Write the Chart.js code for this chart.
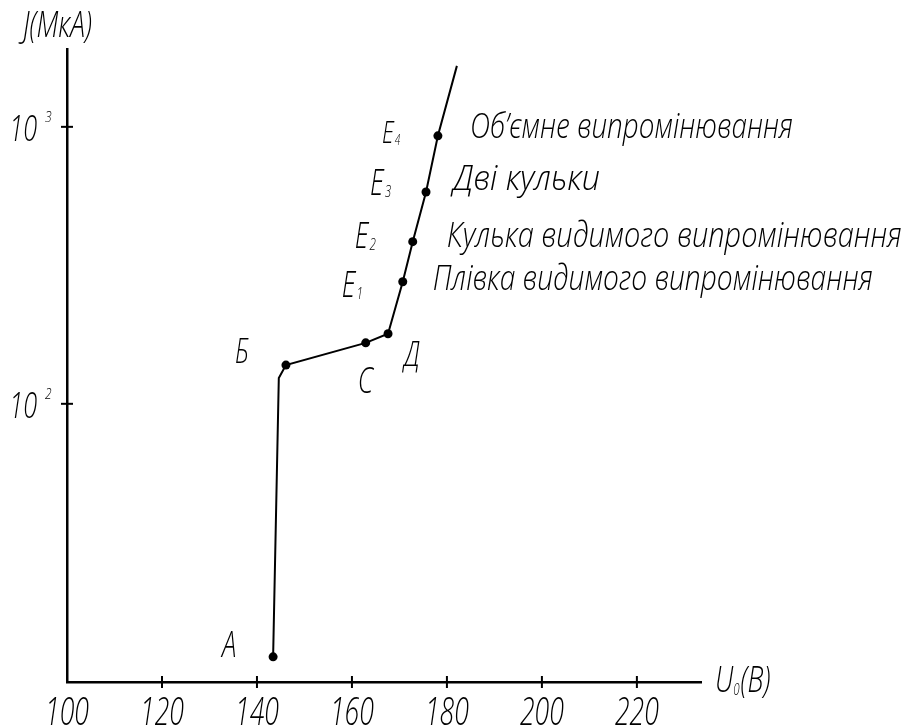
<html>
<head>
<script src="https://cdn.jsdelivr.net/npm/chart.js@4.4.1/dist/chart.umd.min.js"></script>
<style>
  body { margin: 0; background: #fff; }
</style>
</head>
<body>
<canvas id="chart" width="904" height="728"></canvas>
<script>

// U0 (V) and J (uA) along the curve
var U = [143.4, 144.6, 146.1, 162.9, 167.6, 170.7, 172.8, 175.6, 178.1, 182.1]
var J = [12.2, 124, 138, 166, 179, 276, 385, 582, 928, 1660]
var pointNames = ['А', '', 'Б', 'С', 'Д', 'Е1', 'Е2', 'Е3', 'Е4', '']
var regimes = ['Плівка видимого випромінювання', 'Кулька видимого випромінювання', 'Дві кульки', 'Об’ємне випромінювання']
var xTicks = [100, 120, 140, 160, 180, 200, 220]
var yTicks = [100, 1000]
var yTickLabels = [['10', '2'], ['10', '3']]

var FONT = '"Open Sans", "DejaVu Sans", sans-serif'

function txt(ctx, s, x, y, size, sx, align) {
  ctx.save()
  ctx.font = 'italic 300 ' + size + 'px ' + FONT
  ctx.fillStyle = '#000'
  ctx.textBaseline = 'alphabetic'
  ctx.textAlign = 'left'
  var w = ctx.measureText(s).width * sx
  var x0 = x
  if (align === 'center') x0 = x - w / 2
  if (align === 'right') x0 = x - w
  ctx.translate(x0, y)
  ctx.scale(sx, 1)
  ctx.fillText(s, 0, 0)
  ctx.restore()
  return w
}

// letter with an optional trailing digit drawn as subscript
function subTxt(ctx, s, x, y, size, sx) {
  var base = s.replace(/\d+$/, '')
  var sub = s.slice(base.length)
  var w = txt(ctx, base, x, y, size, sx)
  if (sub) txt(ctx, sub, x + w + 1, y + 2, size * 0.45, sx)
}

// offsets of point labels from their marker [dx, dy, size]
var labelPos = {
  'А': [-51, 0, 36], 'Б': [-51, -2, 34], 'С': [-8, 50, 36], 'Д': [16, 32, 35],
  'Е1': [-61, 15, 36], 'Е2': [-58, 6, 36], 'Е3': [-56, 3, 36], 'Е4': [-56, 7, 31]
}
// offsets of the regime captions from E1..E4 [dx, dy, target width]
var regimePos = [[30, 8, 440], [34, 5, 455], [27, -2, 147], [32, 2, 323]]

var annotate = {
  id: 'annotate',
  afterDraw: function(chart) {
    var ctx = chart.ctx
    var xs = chart.scales.x, ys = chart.scales.y
    var a = chart.chartArea
    ctx.save()
    ctx.strokeStyle = '#000'
    ctx.lineWidth = 2

    // x ticks and labels
    xTicks.forEach(function(v) {
      var px = xs.getPixelForValue(v)
      if (v > xs.min) {
        ctx.beginPath(); ctx.moveTo(px, a.bottom - 6); ctx.lineTo(px, a.bottom + 6); ctx.stroke()
      }
      txt(ctx, String(v), px, a.bottom + 43, 38, 0.7, 'center')
    })

    // y ticks and labels
    yTicks.forEach(function(v, i) {
      var py = ys.getPixelForValue(v)
      ctx.beginPath(); ctx.moveTo(a.left - 6, py); ctx.lineTo(a.left + 6, py); ctx.stroke()
      txt(ctx, yTickLabels[i][0], a.left - 30, py + 14, 36, 0.7, 'right')
      txt(ctx, yTickLabels[i][1], a.left - 22, py - 5, 15, 0.8)
    })

    // axis titles
    txt(ctx, 'J(МкА)', 23, a.top - 12, 37, 0.72)
    var w = txt(ctx, 'U', a.right + 14, a.bottom + 10, 37, 0.72)
    var w2 = txt(ctx, '0', a.right + 14 + w, a.bottom + 13, 16, 0.72)
    txt(ctx, '(В)', a.right + 15 + w + w2, a.bottom + 10, 37, 0.72)

    // point labels
    var meta = chart.getDatasetMeta(0)
    pointNames.forEach(function(n, i) {
      if (!n) return
      var p = meta.data[i]
      var o = labelPos[n]
      subTxt(ctx, n, p.x + o[0], p.y + o[1], o[2], 0.72)
    })

    // regime captions next to E1..E4
    regimes.forEach(function(s, k) {
      var p = meta.data[5 + k]
      var o = regimePos[k]
      ctx.save()
      ctx.font = 'italic 300 35px ' + FONT
      var sx = o[2] / ctx.measureText(s).width
      ctx.restore()
      txt(ctx, s, p.x + o[0], p.y + o[1], 35, sx)
    })
    ctx.restore()
  }
}

var ctx = document.getElementById('chart').getContext('2d')

var config = {
  type: 'scatter',
  data: {
    datasets: [{
      data: U.map(function(u, i) { return { x: u, y: J[i] } }),
      showLine: true,
      borderColor: '#000',
      borderWidth: 2,
      tension: 0,
      pointRadius: pointNames.map(function(n) { return n ? 4.5 : 0 }),
      pointBackgroundColor: '#000',
      pointBorderColor: '#000',
      pointBorderWidth: 0
    }]
  },
  options: {
    responsive: false,
    animation: false,
    layout: { padding: { left: 59, right: 203, top: 49, bottom: 38 } },
    plugins: { legend: { display: false }, tooltip: { enabled: false } },
    scales: {
      x: {
        type: 'linear', min: 100, max: 233.5,
        grid: { display: false },
        border: { display: true, color: '#000', width: 2.5 },
        ticks: { display: false }
      },
      y: {
        type: 'logarithmic', min: 9.9, max: 1910,
        grid: { display: false },
        border: { display: true, color: '#000', width: 2.5 },
        ticks: { display: false }
      }
    }
  },
  plugins: [annotate]
}

var chart = new Chart(ctx, config)

</script>
</body>
</html>
